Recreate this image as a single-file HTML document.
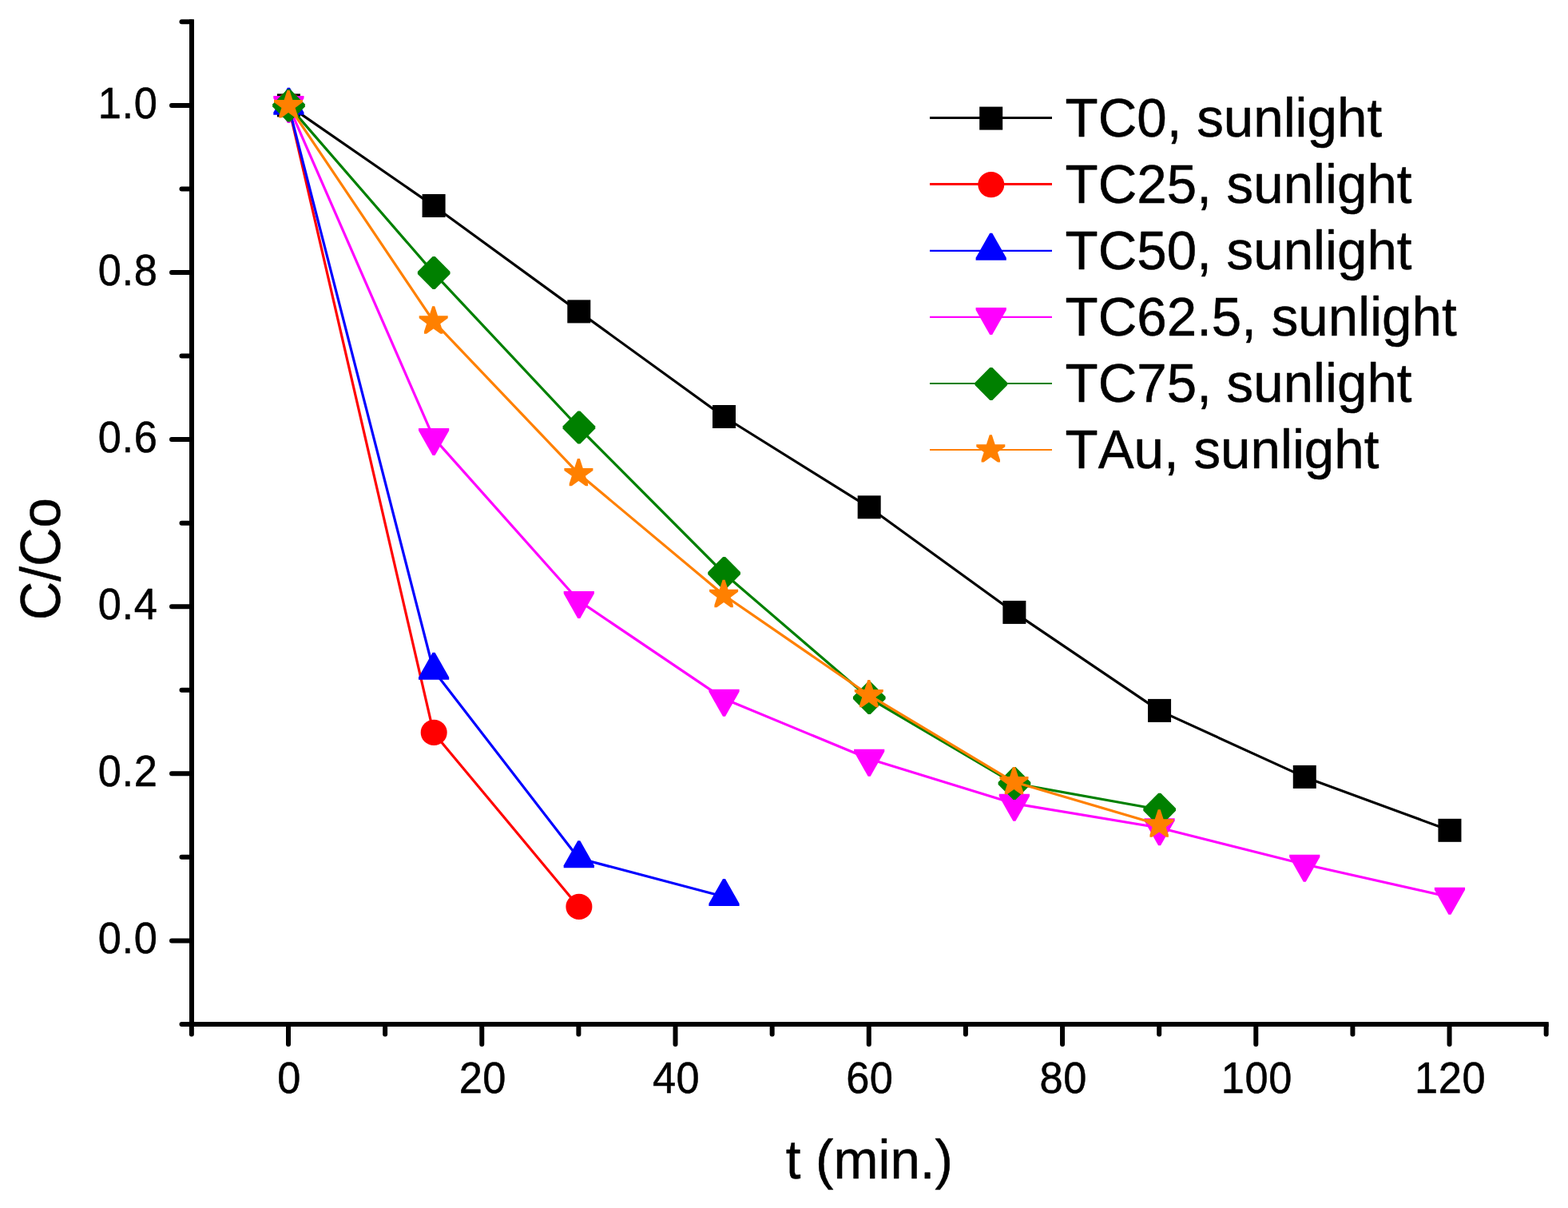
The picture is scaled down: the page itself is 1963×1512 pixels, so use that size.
<!DOCTYPE html>
<html lang="en"><head><meta charset="utf-8"><title>C/Co vs t (min.)</title>
<style>
html,body{margin:0;padding:0;background:#fff;}
body{width:1963px;height:1512px;overflow:hidden;}
svg{display:block;}
text{font-family:"Liberation Sans",sans-serif;fill:#000;stroke:#000;stroke-width:0.5px;stroke-linejoin:round;font-kerning:none;white-space:pre;}
.tick{font-size:54.6px;letter-spacing:0.6px;}
.title{font-size:68px;}
.leg{font-size:68px;}
</style></head><body>
<svg width="1963" height="1512" viewBox="0 0 1963 1512">
<rect x="0" y="0" width="1963" height="1512" fill="#ffffff"/>
<g>
<polyline points="361,131.9 542.69,257.5 724.39,389.9 906.09,521.5 1087.78,634.8 1269.47,766.4 1451.17,889.4 1632.87,972.4 1814.56,1039.3" fill="none" stroke="#000000" stroke-width="3.2" stroke-linejoin="round"/>
<rect x="346.9" y="117.4" width="29" height="29" fill="#000000"/>
<rect x="528.59" y="243" width="29" height="29" fill="#000000"/>
<rect x="710.29" y="375.4" width="29" height="29" fill="#000000"/>
<rect x="891.99" y="507" width="29" height="29" fill="#000000"/>
<rect x="1073.68" y="620.3" width="29" height="29" fill="#000000"/>
<rect x="1255.38" y="751.9" width="29" height="29" fill="#000000"/>
<rect x="1437.07" y="874.9" width="29" height="29" fill="#000000"/>
<rect x="1618.77" y="957.9" width="29" height="29" fill="#000000"/>
<rect x="1800.46" y="1024.8" width="29" height="29" fill="#000000"/>
</g>
<g>
<polyline points="361,131.9 542.69,916.9 724.39,1134.9" fill="none" stroke="#ff0000" stroke-width="3.2" stroke-linejoin="round"/>
<ellipse cx="361.5" cy="131.9" rx="16.5" ry="16.1" fill="#ff0000"/>
<ellipse cx="543.19" cy="916.9" rx="16.5" ry="16.1" fill="#ff0000"/>
<ellipse cx="724.89" cy="1134.9" rx="16.5" ry="16.1" fill="#ff0000"/>
</g>
<g>
<polyline points="361,131.9 542.69,839 724.39,1074.3 906.09,1122.2" fill="none" stroke="#0000ff" stroke-width="3.2" stroke-linejoin="round"/>
<path d="M342.3 143.73L380.5 143.73L380.5 140.73L362.9 109.73L359.9 109.73L342.3 140.73Z" fill="#0000ff"/>
<path d="M523.99 850.83L562.19 850.83L562.19 847.83L544.59 816.83L541.59 816.83L523.99 847.83Z" fill="#0000ff"/>
<path d="M705.69 1086.13L743.89 1086.13L743.89 1083.13L726.29 1052.13L723.29 1052.13L705.69 1083.13Z" fill="#0000ff"/>
<path d="M887.38 1134.03L925.59 1134.03L925.59 1131.03L907.99 1100.03L904.99 1100.03L887.38 1131.03Z" fill="#0000ff"/>
</g>
<g>
<polyline points="361,131.9 542.69,547.9 724.39,751.8 906.09,874.6 1087.78,949.7 1269.47,1005.7 1451.17,1036 1632.87,1081.7 1814.56,1122.7" fill="none" stroke="#ff00ff" stroke-width="3.2" stroke-linejoin="round"/>
<path d="M359.9 154.07L362.9 154.07L380.5 123.07L380.5 120.07L342.3 120.07L342.3 123.07Z" fill="#ff00ff"/>
<path d="M541.59 570.07L544.59 570.07L562.19 539.07L562.19 536.07L523.99 536.07L523.99 539.07Z" fill="#ff00ff"/>
<path d="M723.29 773.97L726.29 773.97L743.89 742.97L743.89 739.97L705.69 739.97L705.69 742.97Z" fill="#ff00ff"/>
<path d="M904.99 896.77L907.99 896.77L925.59 865.77L925.59 862.77L887.38 862.77L887.38 865.77Z" fill="#ff00ff"/>
<path d="M1086.68 971.87L1089.68 971.87L1107.28 940.87L1107.28 937.87L1069.08 937.87L1069.08 940.87Z" fill="#ff00ff"/>
<path d="M1268.38 1027.87L1271.38 1027.87L1288.97 996.87L1288.97 993.87L1250.78 993.87L1250.78 996.87Z" fill="#ff00ff"/>
<path d="M1450.07 1058.17L1453.07 1058.17L1470.67 1027.17L1470.67 1024.17L1432.47 1024.17L1432.47 1027.17Z" fill="#ff00ff"/>
<path d="M1631.77 1103.87L1634.77 1103.87L1652.37 1072.87L1652.37 1069.87L1614.17 1069.87L1614.17 1072.87Z" fill="#ff00ff"/>
<path d="M1813.46 1144.87L1816.46 1144.87L1834.06 1113.87L1834.06 1110.87L1795.86 1110.87L1795.86 1113.87Z" fill="#ff00ff"/>
</g>
<g>
<polyline points="361,131.9 542.69,341.4 724.39,535 906.09,717.5 1087.78,873.5 1269.47,980.5 1451.17,1013.3" fill="none" stroke="#008000" stroke-width="3.2" stroke-linejoin="round"/>
<path d="M341.15 133.4L360 152.4L363 152.4L381.85 133.4L381.85 130.4L363 111.4L360 111.4L341.15 130.4Z" fill="#008000"/>
<path d="M522.84 342.9L541.69 361.9L544.69 361.9L563.54 342.9L563.54 339.9L544.69 320.9L541.69 320.9L522.84 339.9Z" fill="#008000"/>
<path d="M704.54 536.5L723.39 555.5L726.39 555.5L745.24 536.5L745.24 533.5L726.39 514.5L723.39 514.5L704.54 533.5Z" fill="#008000"/>
<path d="M886.24 719L905.09 738L908.09 738L926.94 719L926.94 716L908.09 697L905.09 697L886.24 716Z" fill="#008000"/>
<path d="M1067.93 875L1086.78 894L1089.78 894L1108.63 875L1108.63 872L1089.78 853L1086.78 853L1067.93 872Z" fill="#008000"/>
<path d="M1249.62 982L1268.47 1001L1271.47 1001L1290.32 982L1290.32 979L1271.47 960L1268.47 960L1249.62 979Z" fill="#008000"/>
<path d="M1431.32 1014.8L1450.17 1033.8L1453.17 1033.8L1472.02 1014.8L1472.02 1011.8L1453.17 992.8L1450.17 992.8L1431.32 1011.8Z" fill="#008000"/>
</g>
<g>
<polyline points="361,131.9 542.69,402.2 724.39,592.8 906.09,744.7 1087.78,869.8 1269.47,978.8 1451.17,1032.2" fill="none" stroke="#ff8000" stroke-width="3.2" stroke-linejoin="round"/>
<path d="M343 128.04L352.41 134.88L349.3 144.44L349.3 147.44L352.3 147.44L361 141.12L369.7 147.44L372.7 147.44L372.7 144.44L369.59 134.88L379 128.04L379 125.04L366.4 125.04L362.5 113.05L359.5 113.05L355.6 125.04L343 125.04Z" fill="#ff8000"/>
<path d="M524.69 398.34L534.1 405.18L531 414.74L531 417.74L534 417.74L542.69 411.42L551.39 417.74L554.39 417.74L554.39 414.74L551.29 405.18L560.7 398.34L560.7 395.34L548.09 395.34L544.19 383.35L541.19 383.35L537.3 395.34L524.69 395.34Z" fill="#ff8000"/>
<path d="M706.39 588.94L715.8 595.78L712.69 605.34L712.69 608.34L715.69 608.34L724.39 602.02L733.09 608.34L736.09 608.34L736.09 605.34L732.98 595.78L742.39 588.94L742.39 585.94L729.79 585.94L725.89 573.95L722.89 573.95L718.99 585.94L706.39 585.94Z" fill="#ff8000"/>
<path d="M888.08 740.84L897.49 747.68L894.39 757.24L894.39 760.24L897.39 760.24L906.09 753.92L914.78 760.24L917.78 760.24L917.78 757.24L914.68 747.68L924.09 740.84L924.09 737.84L911.48 737.84L907.59 725.85L904.59 725.85L900.69 737.84L888.08 737.84Z" fill="#ff8000"/>
<path d="M1069.78 865.94L1079.19 872.78L1076.08 882.34L1076.08 885.34L1079.08 885.34L1087.78 879.02L1096.48 885.34L1099.48 885.34L1099.48 882.34L1096.37 872.78L1105.78 865.94L1105.78 862.94L1093.18 862.94L1089.28 850.95L1086.28 850.95L1082.38 862.94L1069.78 862.94Z" fill="#ff8000"/>
<path d="M1251.47 974.94L1260.88 981.78L1257.78 991.34L1257.78 994.34L1260.78 994.34L1269.47 988.02L1278.17 994.34L1281.17 994.34L1281.17 991.34L1278.07 981.78L1287.48 974.94L1287.48 971.94L1274.87 971.94L1270.97 959.95L1267.97 959.95L1264.08 971.94L1251.47 971.94Z" fill="#ff8000"/>
<path d="M1433.17 1028.34L1442.58 1035.18L1439.47 1044.74L1439.47 1047.74L1442.47 1047.74L1451.17 1041.42L1459.87 1047.74L1462.87 1047.74L1462.87 1044.74L1459.76 1035.18L1469.17 1028.34L1469.17 1025.34L1456.57 1025.34L1452.67 1013.35L1449.67 1013.35L1445.77 1025.34L1433.17 1025.34Z" fill="#ff8000"/>
</g>
<g stroke="#000" stroke-width="6.0" fill="none" stroke-linecap="round">
<path d="M240 27.35L240 1282" stroke-linecap="square"/>
<path d="M240 1282L1935.69 1282" stroke-linecap="square"/>
<path d="M240 1281.95L227.5 1281.95"/>
<path d="M240 1177.4L215 1177.4"/>
<path d="M240 1072.85L227.5 1072.85"/>
<path d="M240 968.3L215 968.3"/>
<path d="M240 863.75L227.5 863.75"/>
<path d="M240 759.2L215 759.2"/>
<path d="M240 654.65L227.5 654.65"/>
<path d="M240 550.1L215 550.1"/>
<path d="M240 445.55L227.5 445.55"/>
<path d="M240 341L215 341"/>
<path d="M240 236.45L227.5 236.45"/>
<path d="M240 131.9L215 131.9"/>
<path d="M240 27.35L227.5 27.35"/>
<path d="M239.87 1282L239.87 1294.5"/>
<path d="M361 1282L361 1307"/>
<path d="M482.13 1282L482.13 1294.5"/>
<path d="M603.26 1282L603.26 1307"/>
<path d="M724.39 1282L724.39 1294.5"/>
<path d="M845.52 1282L845.52 1307"/>
<path d="M966.65 1282L966.65 1294.5"/>
<path d="M1087.78 1282L1087.78 1307"/>
<path d="M1208.91 1282L1208.91 1294.5"/>
<path d="M1330.04 1282L1330.04 1307"/>
<path d="M1451.17 1282L1451.17 1294.5"/>
<path d="M1572.3 1282L1572.3 1307"/>
<path d="M1693.43 1282L1693.43 1294.5"/>
<path d="M1814.56 1282L1814.56 1307"/>
<path d="M1935.69 1282L1935.69 1294.5"/>
</g>
<g class="tick" text-anchor="end">
<text transform="translate(197.38 1193.4) scale(0.96 1.015)">0.0</text>
<text transform="translate(197.38 984.3) scale(0.96 1.015)">0.2</text>
<text transform="translate(197.38 775.2) scale(0.96 1.015)">0.4</text>
<text transform="translate(197.38 566.1) scale(0.96 1.015)">0.6</text>
<text transform="translate(197.38 357) scale(0.96 1.015)">0.8</text>
<text transform="translate(197.38 147.9) scale(0.96 1.015)">1.0</text>
</g>
<g class="tick" text-anchor="middle">
<text transform="translate(362.09 1367.6) scale(0.96 1.015)">0</text>
<text transform="translate(604.35 1367.6) scale(0.96 1.015)">20</text>
<text transform="translate(846.61 1367.6) scale(0.96 1.015)">40</text>
<text transform="translate(1088.87 1367.6) scale(0.96 1.015)">60</text>
<text transform="translate(1331.13 1367.6) scale(0.96 1.015)">80</text>
<text transform="translate(1573.39 1367.6) scale(0.96 1.015)">100</text>
<text transform="translate(1815.65 1367.6) scale(0.96 1.015)">120</text>
</g>
<text class="title" text-anchor="middle" transform="translate(1088.3 1475) scale(0.989 1.01)">t (min.)</text>
<text class="title" text-anchor="middle" transform="translate(75.2 699.7) rotate(-90) scale(0.989 1.03)">C/Co</text>
<path d="M1164 147.5L1317 147.5" stroke="#000000" stroke-width="3.0" fill="none"/>
<rect x="1226.2" y="133.6" width="29" height="29" fill="#000000"/>
<text class="leg" transform="translate(1333.6 170.7) scale(0.990 1.02)">TC0, sunlight</text>
<path d="M1164 230.5L1317 230.5" stroke="#ff0000" stroke-width="3.0" fill="none"/>
<ellipse cx="1240.8" cy="231.1" rx="16.5" ry="16.1" fill="#ff0000"/>
<text class="leg" transform="translate(1333.6 253.82) scale(0.990 1.02)">TC25, sunlight</text>
<path d="M1164 313.8L1317 313.8" stroke="#0000ff" stroke-width="2.2" fill="none"/>
<path d="M1221.6 325.63L1259.8 325.63L1259.8 322.63L1242.2 291.63L1239.2 291.63L1221.6 322.63Z" fill="#0000ff"/>
<text class="leg" transform="translate(1333.6 336.94) scale(0.990 1.02)">TC50, sunlight</text>
<path d="M1164 396.9L1317 396.9" stroke="#ff00ff" stroke-width="2.2" fill="none"/>
<path d="M1239.2 419.07L1242.2 419.07L1259.8 388.07L1259.8 385.07L1221.6 385.07L1221.6 388.07Z" fill="#ff00ff"/>
<text class="leg" transform="translate(1333.6 420.06) scale(0.990 1.02)">TC62.5, sunlight</text>
<path d="M1164 480L1317 480" stroke="#008000" stroke-width="2.2" fill="none"/>
<path d="M1220.45 482.1L1239.3 501.1L1242.3 501.1L1261.15 482.1L1261.15 479.1L1242.3 460.1L1239.3 460.1L1220.45 479.1Z" fill="#008000"/>
<text class="leg" transform="translate(1333.6 503.18) scale(0.990 1.02)">TC75, sunlight</text>
<path d="M1164 563L1317 563" stroke="#ff8000" stroke-width="2.2" fill="none"/>
<path d="M1222.3 559.14L1231.71 565.98L1228.6 575.54L1228.6 578.54L1231.6 578.54L1240.3 572.22L1249 578.54L1252 578.54L1252 575.54L1248.89 565.98L1258.3 559.14L1258.3 556.14L1245.7 556.14L1241.8 544.15L1238.8 544.15L1234.9 556.14L1222.3 556.14Z" fill="#ff8000"/>
<text class="leg" transform="translate(1333.6 586.3) scale(0.990 1.02)">TAu, sunlight</text>
</svg></body></html>
